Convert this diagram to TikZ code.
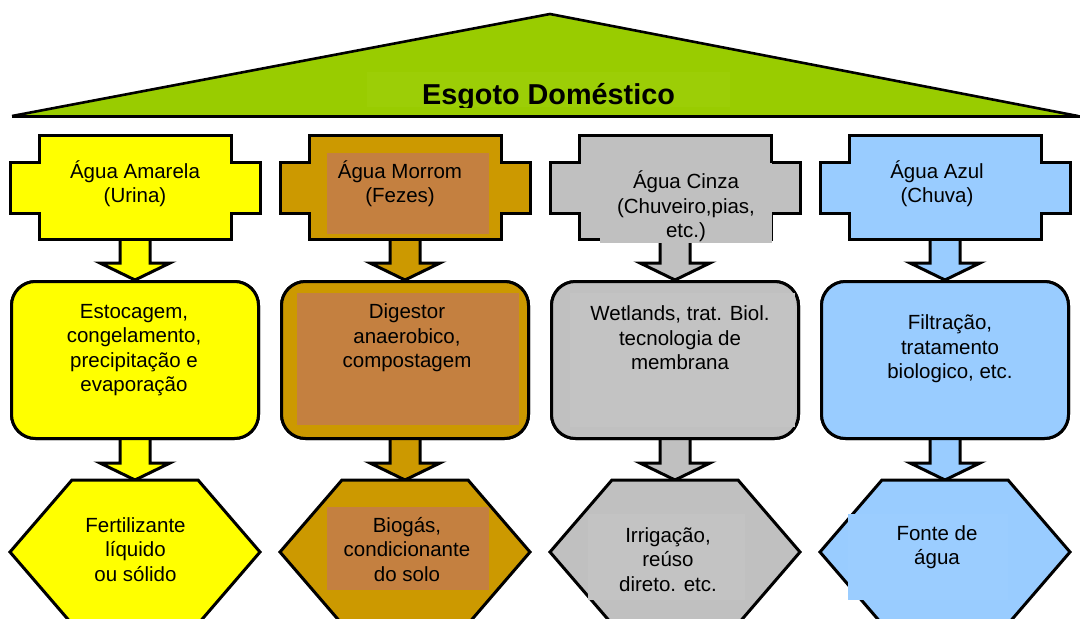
\documentclass[tikz,border=0pt]{standalone}
\usepackage{fontspec}
\setmainfont{Liberation Sans}
\usetikzlibrary{calc}
\definecolor{roofgreen}{HTML}{99CC00}
\definecolor{roofin}{HTML}{9CCE06}
\definecolor{yel}{HTML}{FFFF00}
\definecolor{brn}{HTML}{CC9900}
\definecolor{brnin}{HTML}{C48040}
\definecolor{gry}{HTML}{C0C0C0}
\definecolor{gryin}{HTML}{C3C3C3}
\definecolor{blu}{HTML}{99CCFF}
\definecolor{bluin}{HTML}{9BCDFF}
\begin{document}
\begin{tikzpicture}[x=1pt,y=-1pt,
  outl/.style={draw=black,line width=3pt,line join=miter},
  midbox/.style={outl,rounded corners=24pt,minimum width=247pt,minimum height=157pt,inner sep=0pt},
  lbl/.style={align=center,inner sep=0pt,font=\fontsize{20.5}{24.5}\selectfont},
  title/.style={anchor=base,inner sep=0pt,font=\fontsize{28.8}{30}\selectfont\bfseries}]
\useasboundingbox (0,0) rectangle (1080,619);
\clip (0,0) rectangle (1080,619);
\fill[white] (0,0) rectangle (1080,619);
% roof
\draw[fill=roofgreen,draw=black,line width=2.6pt,line join=round] (12,116) -- (550,14) -- (1078,116);
\fill[roofin] (367,72) rectangle (730,107);
\begin{scope}
  \clip (0,0) rectangle (1080,107.5);
  \node[title] (ttl) at (548.5,104) {Esgoto Doméstico};
\end{scope}
\draw[line width=3pt] (12,116) -- (1080,116);
% columns
\foreach \i/\c/\col in {1/135/yel,2/405/brn,3/675/gry,4/945/blu}{
  \coordinate (t\i) at (\c,239);
  \coordinate (b\i) at (\c,480);
  \node[midbox,fill=\col] (m\i) at (\c,360) {};
  % arrows
  \draw[outl,fill=\col] ($(t\i)+(-15,0)$) -- ($(t\i)+(-15,24)$) -- ($(t\i)+(-35,24)$) -- (m\i.north) -- ($(t\i)+(35,24)$) -- ($(t\i)+(15,24)$) -- ($(t\i)+(15,0)$);
  \draw[outl,fill=\col] ($(m\i.south)+(-15,0)$) -- ($(m\i.south)+(-15,23)$) -- ($(m\i.south)+(-35,23)$) -- (b\i) -- ($(m\i.south)+(35,23)$) -- ($(m\i.south)+(15,23)$) -- ($(m\i.south)+(15,0)$);
  % top cross shape
  \draw[outl,fill=\col] (\c-96,135) -- (\c+96,135) -- (\c+96,162) -- (\c+125,162) -- (\c+125,213) -- (\c+96,213) -- (\c+96,239) -- (\c-96,239) -- (\c-96,213) -- (\c-125,213) -- (\c-125,162) -- (\c-96,162) -- cycle;
  % middle box again on top of arrow ends
  \node[midbox,fill=\col] at (m\i) {};
  % bottom hexagon
  \draw[outl,fill=\col] (\c-63,480) -- (\c+63,480) -- (\c+125,552) -- (\c+63,624) -- (\c-63,624) -- (\c-125,552) -- cycle;
}
% inner rectangles
\fill[brnin] (327,153) rectangle (489,234);
\fill[brnin] (297,293) rectangle (519,425);
\fill[brnin] (327,507) rectangle (489,590);
\fill[gryin] (570,293) rectangle (795,427);
\fill[gryin] (588,514) rectangle (745,600);
\fill[bluin] (848,514) rectangle (1008,600);
\fill[gry] (600,163) rectangle (772,243);
% labels
\node[lbl] (a1) at (135,183.5) {Água Amarela\\(Urina)};
\node[lbl] (a2) at (400,183.5) {Água Morrom\\(Fezes)};
\node[lbl] (a3) at (686,206.5) {Água Cinza\\(Chuveiro,pias,\\etc.)};
\node[lbl] (a4) at (937,183.5) {Água Azul\\(Chuva)};
\node[lbl] (p1) at (134,350) {Estocagem,\\congelamento,\\precipitação e\\evaporação};
\node[lbl] (p2) at (407,338) {Digestor\\anaerobico,\\compostagem};
\node[lbl] (p3) at (680,338) {Wetlands, trat. Biol.\\tecnologia de\\membrana};
\node[lbl] (p4) at (950,349) {Filtração,\\tratamento\\biologico, etc.};
\node[lbl] (r1) at (135.5,549.5) {Fertilizante\\líquido\\ou sólido};
\node[lbl] (r2) at (407,549.5) {Biogás,\\condicionante\\do solo};
\node[lbl] (r3) at (668,559.5) {Irrigação,\\reúso\\direto. etc.};
\node[lbl] (r4) at (937,547) {Fonte de\\água};
\end{tikzpicture}
\end{document}
